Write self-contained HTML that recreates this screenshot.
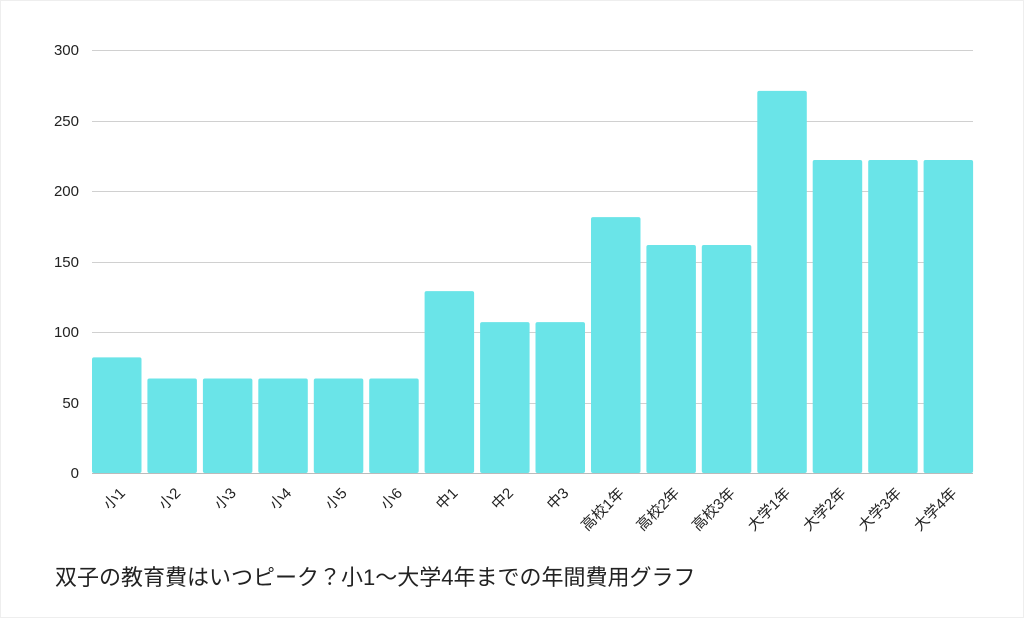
<!DOCTYPE html>
<html><head><meta charset="utf-8"><style>
body{margin:0;background:#fff;}
svg{display:block;font-family:"Liberation Sans","Noto Sans CJK JP",sans-serif;}
</style></head><body>
<svg width="1024" height="618" viewBox="0 0 1024 618">
<rect x="0.5" y="0.5" width="1023" height="617" fill="#fff" stroke="#eee"/>
<g stroke="#d0d0d0" stroke-width="1">
<line x1="92" x2="973" y1="50.5" y2="50.5"/>
<line x1="92" x2="973" y1="121.5" y2="121.5"/>
<line x1="92" x2="973" y1="191.5" y2="191.5"/>
<line x1="92" x2="973" y1="262.5" y2="262.5"/>
<line x1="92" x2="973" y1="332.5" y2="332.5"/>
<line x1="92" x2="973" y1="403.5" y2="403.5"/>
<line x1="92" x2="973" y1="473.5" y2="473.5" stroke="#bbb"/>
</g>
<g font-size="15" fill="#222" text-anchor="end">
<text x="79" y="55">300</text><text x="79" y="126">250</text><text x="79" y="196">200</text>
<text x="79" y="267">150</text><text x="79" y="337">100</text><text x="79" y="408">50</text><text x="79" y="478">0</text>
</g>
<g fill="#6ae4e8">
<rect x="92" y="357.4" width="49.5" height="115.6" rx="2"/>
<rect x="147.4" y="378.5" width="49.5" height="94.5" rx="2"/>
<rect x="202.9" y="378.5" width="49.5" height="94.5" rx="2"/>
<rect x="258.3" y="378.5" width="49.5" height="94.5" rx="2"/>
<rect x="313.8" y="378.5" width="49.5" height="94.5" rx="2"/>
<rect x="369.2" y="378.5" width="49.5" height="94.5" rx="2"/>
<rect x="424.6" y="291.1" width="49.5" height="181.9" rx="2"/>
<rect x="480.1" y="322.1" width="49.5" height="150.9" rx="2"/>
<rect x="535.5" y="322.1" width="49.5" height="150.9" rx="2"/>
<rect x="591" y="217.1" width="49.5" height="255.9" rx="2"/>
<rect x="646.4" y="245" width="49.5" height="228" rx="2"/>
<rect x="701.8" y="245" width="49.5" height="228" rx="2"/>
<rect x="757.3" y="90.9" width="49.5" height="382.1" rx="2"/>
<rect x="812.7" y="160" width="49.5" height="313" rx="2"/>
<rect x="868.2" y="160" width="49.5" height="313" rx="2"/>
<rect x="923.6" y="160" width="49.5" height="313" rx="2"/>
</g>
<g font-size="15" fill="#222" text-anchor="end">
<text transform="translate(126,494) rotate(-45)">小1</text>
<text transform="translate(181.4,494) rotate(-45)">小2</text>
<text transform="translate(236.9,494) rotate(-45)">小3</text>
<text transform="translate(292.3,494) rotate(-45)">小4</text>
<text transform="translate(347.8,494) rotate(-45)">小5</text>
<text transform="translate(403.2,494) rotate(-45)">小6</text>
<text transform="translate(458.6,494) rotate(-45)">中1</text>
<text transform="translate(514.1,494) rotate(-45)">中2</text>
<text transform="translate(569.5,494) rotate(-45)">中3</text>
<text transform="translate(625,494) rotate(-45)">高校1年</text>
<text transform="translate(680.4,494) rotate(-45)">高校2年</text>
<text transform="translate(735.8,494) rotate(-45)">高校3年</text>
<text transform="translate(791.3,494) rotate(-45)">大学1年</text>
<text transform="translate(846.7,494) rotate(-45)">大学2年</text>
<text transform="translate(902.2,494) rotate(-45)">大学3年</text>
<text transform="translate(957.6,494) rotate(-45)">大学4年</text>
</g>
<text x="55" y="585" font-size="22" fill="#222">双子の教育費はいつピーク？小1〜大学4年までの年間費用グラフ</text>
</svg>
</body></html>
